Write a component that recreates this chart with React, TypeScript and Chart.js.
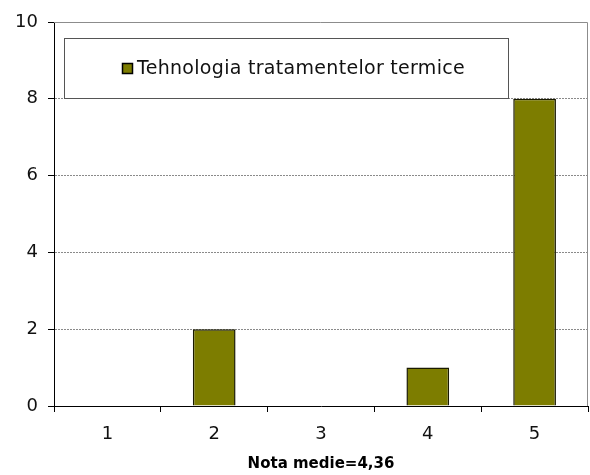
import React, { useEffect, useRef } from "react";
import { Chart, registerables } from "chart.js";

Chart.register(...registerables);

const categories = ["1", "2", "3", "4", "5"];
const seriesName = "Tehnologia tratamentelor termice";
const seriesValues = [0, 2, 0, 1, 8];
const yTicks = [0, 2, 4, 6, 8, 10];
const xTitle = "Nota medie=4,36";

const BAR_COLOR = "#7d7d00";
const FONT = "'DejaVu Sans', 'Liberation Sans', Arial, sans-serif";

const framePlugin = {
  id: "frameAndLegend",
  afterDraw(chart: any) {
    const { ctx, chartArea } = chart;
    const { left, right, top, bottom } = chartArea;
    ctx.save();
    // gray top and right frame
    ctx.strokeStyle = "#8c8c8c";
    ctx.lineWidth = 1;
    ctx.beginPath();
    ctx.moveTo(left, top + 0.5);
    ctx.lineTo(right - 0.5, top + 0.5);
    ctx.lineTo(right - 0.5, bottom);
    ctx.stroke();

    // legend box
    const bx = left + 10;
    const by = top + 16;
    const bw = 444;
    const bh = 60;
    ctx.fillStyle = "#ffffff";
    ctx.fillRect(bx, by, bw, bh);
    ctx.strokeStyle = "#555555";
    ctx.strokeRect(bx + 0.5, by + 0.5, bw, bh);
    const cy = by + bh / 2;
    ctx.fillStyle = BAR_COLOR;
    ctx.fillRect(bx + 58, cy - 5, 10, 10);
    ctx.strokeStyle = "#000";
    ctx.lineWidth = 1.5;
    ctx.strokeRect(bx + 58.5, cy - 4.5, 10, 10);
    ctx.fillStyle = "#111";
    ctx.font = `19px ${FONT}`;
    try {
      (ctx as any).letterSpacing = "0.3px";
    } catch (e) {}
    ctx.textBaseline = "middle";
    ctx.textAlign = "left";
    ctx.fillText(seriesName, bx + 73, cy + 1);
    ctx.restore();
  },
};

export default function App() {
  const ref = useRef<HTMLCanvasElement | null>(null);

  useEffect(() => {
    if (!ref.current) return;
    const chart = new Chart(ref.current, {
      type: "bar",
      data: {
        labels: categories,
        datasets: [
          {
            label: seriesName,
            data: seriesValues,
            backgroundColor: BAR_COLOR,
            borderColor: "#1a1a00",
            borderWidth: 1.5,
            categoryPercentage: 1,
            barPercentage: 0.4,
          },
        ],
      },
      options: {
        responsive: false,
        animation: false,
        layout: { padding: { top: 22, right: 2, left: 0, bottom: 0 } },
        plugins: {
          legend: { display: false },
          tooltip: { enabled: false },
          title: { display: false },
        },
        scales: {
          x: {
            afterFit: (s: any) => {
              s.height = 69;
            },
            grid: {
              offset: true,
              drawOnChartArea: false,
              drawTicks: true,
              tickLength: 6,
              tickColor: "#000",
              color: "#000",
            },
            border: { display: true, color: "#000", width: 1 },
            ticks: {
              color: "#111",
              font: { family: FONT, size: 18 },
              padding: 12,
            },
            title: {
              display: true,
              text: xTitle,
              color: "#000",
              font: { family: FONT, size: 15, weight: "bold" },
              padding: { top: 0, bottom: 2 },
            },
          },
          y: {
            min: 0,
            max: 10,
            afterFit: (s: any) => {
              s.width = 54;
            },
            afterBuildTicks: (s: any) => {
              s.ticks = yTicks.map((v) => ({ value: v }));
            },
            grid: {
              drawOnChartArea: true,
              drawTicks: true,
              tickLength: 6,
              tickColor: "#000",
              tickBorderDash: [],
              color: (c: any) =>
                c.tick && (c.tick.value === 0 || c.tick.value === 10)
                  ? "rgba(0,0,0,0)"
                  : "#8a8a8a",
            },
            border: { display: true, color: "#000", width: 1, dash: [2, 1] },
            ticks: {
              color: "#111",
              font: { family: FONT, size: 18 },
              padding: 10,
            },
          },
        },
      },
      plugins: [framePlugin],
    });
    return () => chart.destroy();
  }, []);

  return (
    <div style={{ position: "absolute", left: 0, top: 0, width: 590, height: 475, background: "#fff" }}>
      <canvas ref={ref} width={590} height={475} />
    </div>
  );
}
